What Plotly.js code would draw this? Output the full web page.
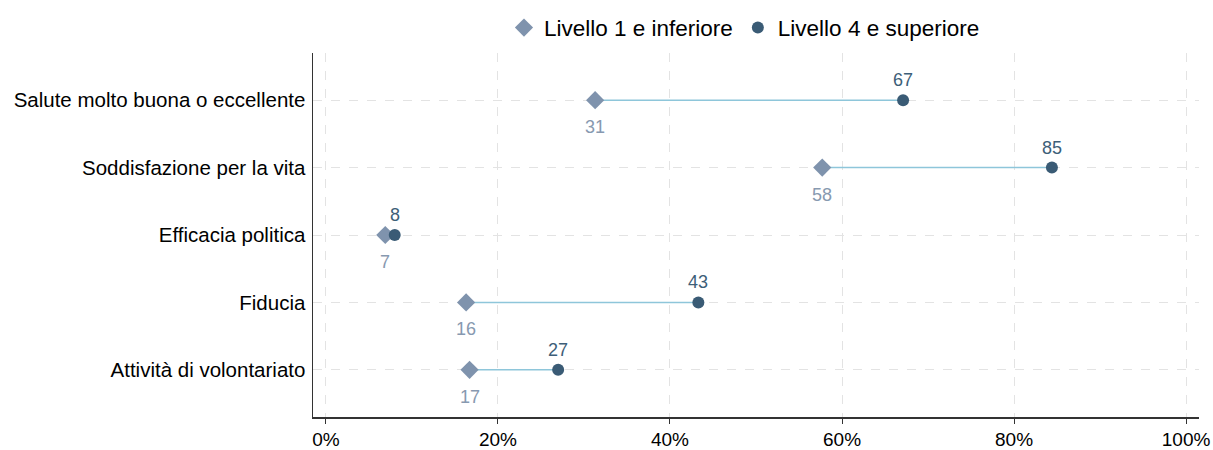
<!DOCTYPE html>
<html><head><meta charset="utf-8">
<script src="https://cdn.plot.ly/plotly-3.0.1.min.js"></script>
<style>body{margin:0;background:#fff}#c{width:1213px;height:450px}</style>
</head><body><div id="c"></div>
<script>
const categories = ["Salute molto buona o eccellente","Soddisfazione per la vita","Efficacia politica","Fiducia","Attività di volontariato"];
const low = [31.3, 57.7, 6.9, 16.3, 16.7];
const high = [67.1, 84.4, 8.0, 43.3, 27.0];
const lowLabels = ["31","58","7","16","17"];
const highLabels = ["67","85","8","43","27"];
const seriesNames = ["Livello 1 e inferiore","Livello 4 e superiore"];

const lx = [], ly = [];
categories.forEach((c,i)=>{ lx.push(low[i], high[i], null); ly.push(c, c, null); });
const font = "Liberation Sans, Arial, sans-serif";
const traces = [
  {x: lx, y: ly, mode: 'lines', line: {color: '#8ec6da', width: 1.5}, showlegend: false, hoverinfo: 'skip'},
  {x: low, y: categories, name: seriesNames[0], mode: 'markers',
   marker: {symbol: 'diamond', size: 14, color: '#7f93ad'}},
  {x: high, y: categories, name: seriesNames[1], mode: 'markers',
   marker: {symbol: 'circle', size: 12, color: '#3a5b75'}}
];
const annotations = [];
categories.forEach((c,i)=>{
  annotations.push({x: low[i], y: c, xref: 'x', yref: 'y', text: lowLabels[i], showarrow: false,
    yshift: -27, font: {color: '#8799b0', size: 18, family: font}});
  annotations.push({x: high[i], y: c, xref: 'x', yref: 'y', text: highLabels[i], showarrow: false,
    yshift: 20, font: {color: '#3d5e78', size: 18, family: font}});
});
const layout = {
  width: 1213, height: 450,
  margin: {l: 313, r: 14, t: 53, b: 33, autoexpand: false},
  paper_bgcolor: '#fff', plot_bgcolor: '#fff',
  font: {family: font, size: 20, color: '#000'},
  showlegend: true,
  annotations: annotations,
  legend: {orientation: 'h', x: 0.487, xanchor: 'center', y: 0.938, yanchor: 'middle', yref: 'container',
           font: {size: 22.5, family: font}, tracegroupgap: 0},
  xaxis: {range: [-1.5, 101.5], tickvals: [0,20,40,60,80,100], ticktext: ["0%","20%","40%","60%","80%","100%"],
          showgrid: true, gridcolor: '#e3e3e3', griddash: 'dash', gridwidth: 1,
          showline: true, linecolor: '#333', linewidth: 1.5, ticks: 'outside', ticklen: 5, tickcolor: '#333',
          zeroline: false, tickfont: {size: 19}, automargin: false},
  yaxis: {type: 'category', range: [4.7, -0.7], showgrid: true, gridcolor: '#e3e3e3', griddash: 'dash', gridwidth: 1,
          showline: true, linecolor: '#333', linewidth: 1.5, ticks: '', ticklen: 0, zeroline: false,
          tickfont: {size: 20.5}, ticklabelstandoff: 2, automargin: false}
};
Plotly.newPlot('c', traces, layout, {displayModeBar: false, staticPlot: true});
</script></body></html>
